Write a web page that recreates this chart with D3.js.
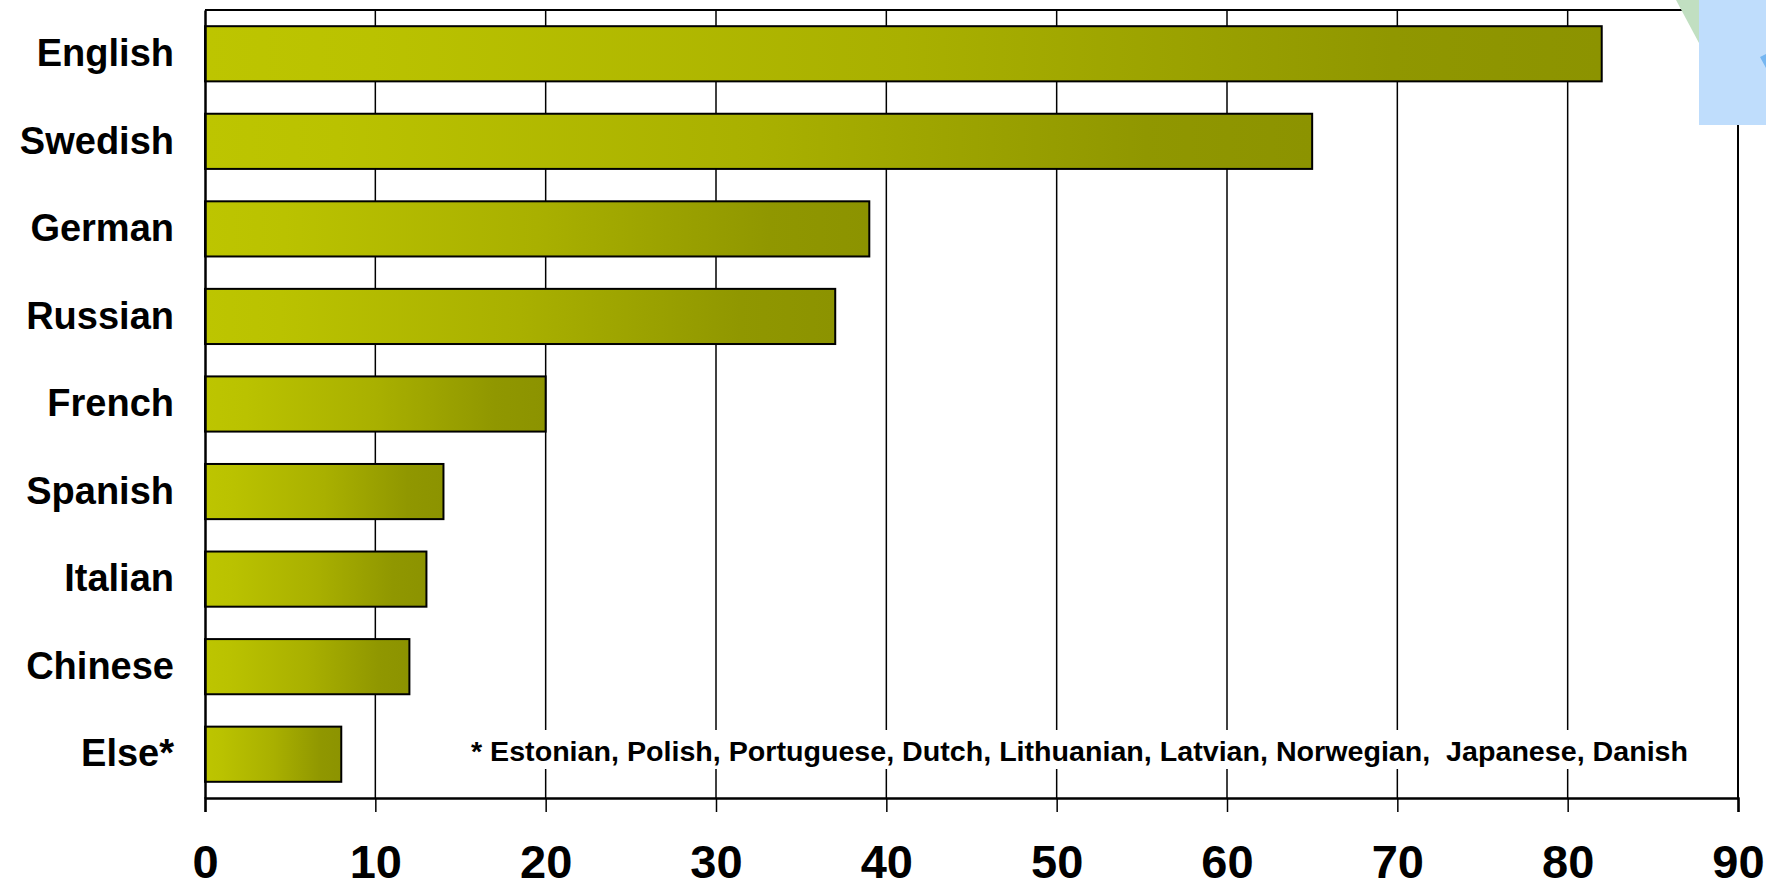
<!DOCTYPE html>
<html>
<head>
<meta charset="utf-8">
<script src="https://cdn.jsdelivr.net/npm/d3@7"></script>
<style>
  html, body { margin: 0; padding: 0; background: #fff; overflow: hidden; }
  svg { display: block; }
  text { font-family: "Liberation Sans", Arial, sans-serif; font-weight: bold; fill: #000; }
</style>
</head>
<body>
<svg id="chart" width="1766" height="881"></svg>
<script>
// Languages and the number of respondents speaking each
const languages = ["English", "Swedish", "German", "Russian", "French", "Spanish", "Italian", "Chinese", "Else*"];
const speakers = [82, 65, 39, 37, 20, 14, 13, 12, 8];
const xTicks = [0, 10, 20, 30, 40, 50, 60, 70, 80, 90];
const footnote = "* Estonian, Polish, Portuguese, Dutch, Lithuanian, Latvian, Norwegian,  Japanese, Danish";

const svg = d3.select("#chart");
const plot = { left: 205, right: 1738, top: 10, bottom: 798 };

const x = d3.scaleLinear().domain([0, 90]).range([plot.left, plot.right]);
const y = d3.scaleBand().domain(languages).range([plot.top, plot.bottom]).paddingInner(0.37).paddingOuter(0.185);

// Horizontal olive gradient for each bar
const defs = svg.append("defs");
const grad = defs.append("linearGradient").attr("id", "barFill")
  .attr("x1", "0").attr("x2", "1").attr("y1", "0").attr("y2", "0");
[[0, "#bdc500"], [0.12, "#bac200"], [0.5, "#a9b000"], [0.85, "#909700"], [1, "#8c9300"]]
  .forEach(([o, c]) => grad.append("stop").attr("offset", o).attr("stop-color", c));

// Vertical gridlines
svg.append("g").selectAll("line").data(xTicks.slice(1, -1)).join("line")
  .attr("x1", d => x(d)).attr("x2", d => x(d))
  .attr("y1", plot.top).attr("y2", plot.bottom)
  .attr("stroke", "#000").attr("stroke-width", 1.5);

// Plot frame: top and right edges
svg.append("line").attr("x1", plot.left).attr("x2", plot.right).attr("y1", plot.top).attr("y2", plot.top)
  .attr("stroke", "#000").attr("stroke-width", 2);
svg.append("line").attr("x1", plot.right).attr("x2", plot.right).attr("y1", plot.top).attr("y2", plot.bottom)
  .attr("stroke", "#000").attr("stroke-width", 2);

// Bars
svg.append("g").selectAll("rect").data(languages).join("rect")
  .attr("x", x(0))
  .attr("y", d => y(d))
  .attr("width", (d, i) => x(speakers[i]) - x(0))
  .attr("height", y.bandwidth())
  .attr("fill", "url(#barFill)")
  .attr("stroke", "#000").attr("stroke-width", 2);

// Footnote with a white backing so gridlines break behind it
const noteY = 752;
svg.append("rect").attr("x", 462).attr("y", 730).attr("width", 1240).attr("height", 39).attr("fill", "#fff");
svg.append("text").attr("x", 471).attr("y", noteY).attr("dy", "0.35em")
  .attr("font-size", 27)
  .style("white-space", "pre")
  .attr("xml:space", "preserve")
  .attr("textLength", 1217).attr("lengthAdjust", "spacingAndGlyphs")
  .text(footnote);

// Bottom axis
const xAxis = d3.axisBottom(x).tickValues(xTicks).tickSize(14).tickPadding(33).tickFormat(d3.format("d"));
const gx = svg.append("g").attr("transform", `translate(0,${plot.bottom})`).call(xAxis);
gx.select(".domain").attr("stroke", "#000").attr("stroke-width", 2.5);
gx.selectAll(".tick line").attr("stroke", "#000").attr("stroke-width", 1.5);
gx.selectAll(".tick text").attr("font-size", 47).attr("font-family", "'Liberation Sans', Arial, sans-serif")
  .attr("font-weight", "bold").attr("fill", "#000");

// Left axis with category labels
const yAxis = d3.axisLeft(y).tickSize(0).tickPadding(31);
const gy = svg.append("g").attr("transform", `translate(${plot.left},0)`).call(yAxis);
gy.select(".domain").attr("stroke", "#000").attr("stroke-width", 2.5);
gy.selectAll(".tick text").attr("font-size", 38).attr("font-family", "'Liberation Sans', Arial, sans-serif")
  .attr("font-weight", "bold").attr("fill", "#000");

// Decorative corner shapes at top right
svg.append("polygon").attr("points", "1676,0 1699,0 1699,43").attr("fill", "#c1dfc1");
svg.append("rect").attr("x", 1699).attr("y", 0).attr("width", 67).attr("height", 125).attr("fill", "#bfddfc");
svg.append("polygon").attr("points", "1760,57 1766,54 1766,68").attr("fill", "#75b6f1");
</script>
</body>
</html>
